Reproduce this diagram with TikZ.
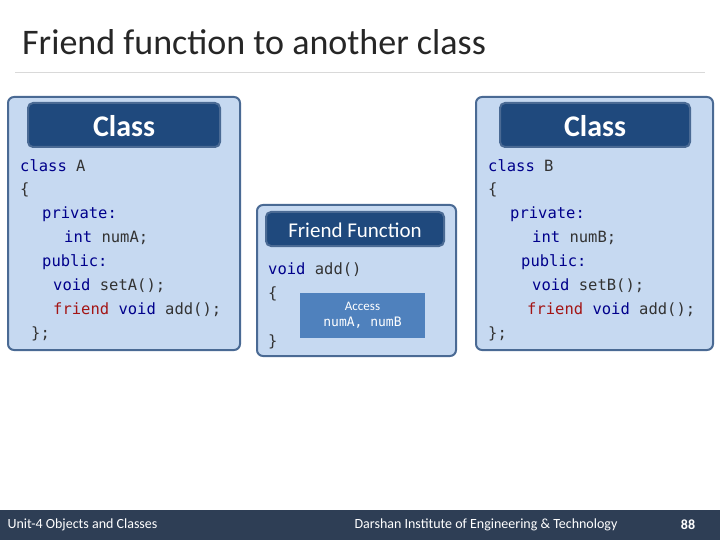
\documentclass[tikz,border=0pt]{standalone}
\usepackage{fontspec}
\setmainfont{Carlito}
\newfontfamily\codefont{DejaVu Sans Mono}
\definecolor{boxfill}{HTML}{C6D9F1}
\definecolor{boxline}{HTML}{4A6A94}
\definecolor{headfill}{HTML}{1F497D}
\definecolor{accfill}{HTML}{4F81BD}
\definecolor{kw}{HTML}{00008B}
\definecolor{fr}{HTML}{A31515}
\definecolor{footfill}{HTML}{2E3E55}
\newcommand{\kw}[1]{\textcolor{kw}{#1}}
\newcommand{\fr}[1]{\textcolor{fr}{#1}}
\begin{document}
\begin{tikzpicture}[x=1pt,y=-1pt,
  outer/.style = {draw=boxline, line width=2pt, fill=boxfill, rounded corners=6pt},
  head/.style = {draw=boxline, line width=2pt, fill=headfill, rounded corners=5pt},
  code/.style = {anchor=west, inner sep=0pt, font=\codefont\fontsize{15.5}{18}\selectfont, text=black!80}]
\useasboundingbox (0,0) rectangle (720,540);
% title
\node[anchor=west, inner sep=0pt, font=\fontsize{36}{40}\selectfont, text=black!85] (title) at (22,42) {Friend function to another class};
\draw[black!15] (15,72) -- (705,72);
% class A
\draw[outer] (8,97) rectangle (240,350);
\draw[head] (28,103) rectangle (220,147);
\node[text=white, font=\bfseries\fontsize{30}{32}\selectfont] (headA) at (124,126) {Class};
\node[code] (a1) at (20,166) {\kw{class} A};
\node[code] (a2) at (20,190) {\{};
\node[code] (a3) at (42,214) {\kw{private:}};
\node[code] (a4) at (64,238) {\kw{int} numA;};
\node[code] (a5) at (42,262) {\kw{public:}};
\node[code] (a6) at (53,286) {\kw{void} setA();};
\node[code] (a7) at (53,310) {\fr{friend} \kw{void} add();};
\node[code] (a8) at (31,334) {\};};
% friend function
\draw[outer] (257,205) rectangle (456,356);
\draw[head] (266,212) rectangle (444,246);
\node[text=white, font=\fontsize{21}{24}\selectfont] (headF) at (355,230) {Friend Function};
\node[code] (f1) at (268,270) {\kw{void} add()};
\node[code] (f2) at (268,294) {\{};
\node[code] (f3) at (268,342) {\}};
\fill[accfill] (300,293) rectangle (425,338);
\node[text=white, font=\codefont\fontsize{13}{16}\selectfont, align=center] (acc) at (362.5,315.5) {\fontspec{Carlito}Access\\numA, numB};
% class B
\draw[outer] (476,97) rectangle (713,350);
\draw[head] (500,103) rectangle (690,147);
\node[text=white, font=\bfseries\fontsize{30}{32}\selectfont] (headB) at (595,126) {Class};
\node[code] (b1) at (488,166) {\kw{class} B};
\node[code] (b2) at (488,190) {\{};
\node[code] (b3) at (510,214) {\kw{private:}};
\node[code] (b4) at (532,238) {\kw{int} numB;};
\node[code] (b5) at (521,262) {\kw{public:}};
\node[code] (b6) at (532,286) {\kw{void} setB();};
\node[code] (b7) at (527,310) {\fr{friend} \kw{void} add();};
\node[code] (b8) at (488,334) {\};};
% footer
\fill[footfill] (0,510) rectangle (720,540);
\node[anchor=west, text=white, font=\fontsize{14}{16}\selectfont] (f1) at (4,525) {Unit-4 Objects and Classes};
\node[text=white, font=\fontsize{14}{16}\selectfont] (f2) at (486,525) {Darshan Institute of Engineering \& Technology};
\node[text=white, font=\bfseries\fontsize{14}{16}\selectfont] (f3) at (688,525) {88};
\end{tikzpicture}
\end{document}
